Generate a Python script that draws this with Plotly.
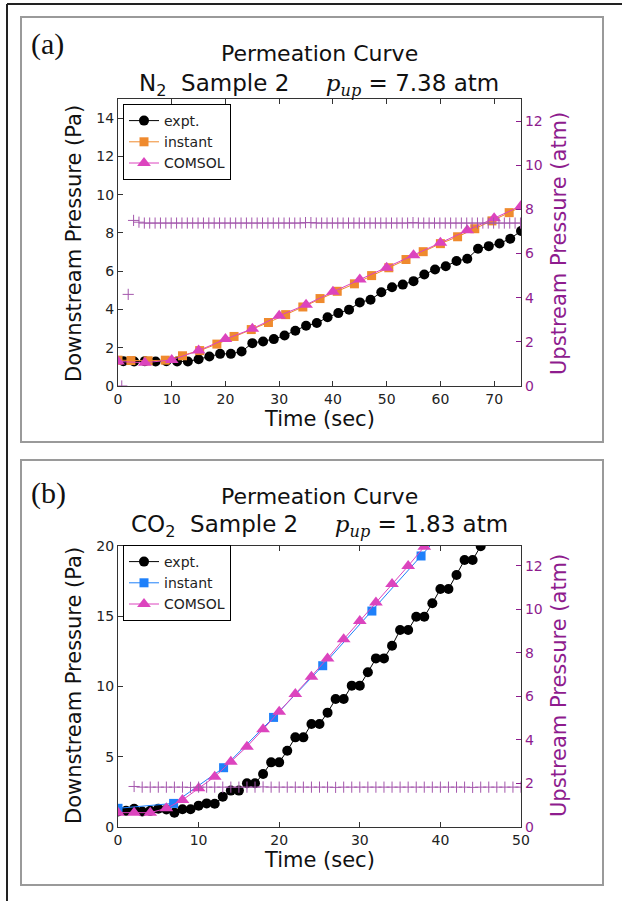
import plotly.graph_objects as go

# ---------------- Panel (a): N2, Sample 2 ----------------
a_expt_t = [1, 3, 5, 7, 9, 11, 13, 15, 17, 19, 21, 23, 25, 27, 29, 31, 33, 35, 37, 39,
            41, 43, 45, 47, 49, 51, 53, 55, 57, 59, 61, 63, 65, 67, 69, 71, 73, 75]
a_expt_p = [1.30, 1.28, 1.30, 1.28, 1.30, 1.28, 1.28, 1.40, 1.54, 1.68, 1.68, 1.80, 2.24, 2.33,
            2.45, 2.64, 2.89, 3.15, 3.29, 3.59, 3.81, 3.99, 4.37, 4.51, 4.90, 5.16, 5.30, 5.48,
            5.83, 6.09, 6.26, 6.53, 6.65, 7.17, 7.31, 7.45, 7.70, 8.10]
a_inst_t = [0.0, 2.4, 5.6, 8.8, 12.0, 15.2, 18.4, 21.6, 24.8, 28.0, 31.2, 34.4, 37.6, 40.8,
            44.0, 47.2, 50.4, 53.6, 56.8, 60.0, 63.2, 66.4, 69.6, 72.8, 76.0]
a_inst_p = [1.35, 1.33, 1.32, 1.35, 1.58, 1.85, 2.19, 2.59, 2.95, 3.32, 3.73, 4.13, 4.57, 4.95,
            5.34, 5.77, 6.18, 6.61, 7.02, 7.44, 7.80, 8.22, 8.63, 9.06, 9.50]
a_com_t = [0, 5, 10, 15, 20, 25, 30, 35, 40, 45, 50, 55, 60, 65, 70, 75]
a_com_p = [1.28, 1.22, 1.36, 1.85, 2.45, 2.99, 3.67, 4.25, 4.92, 5.56, 6.18, 6.84, 7.49, 8.14,
           8.77, 9.41]
a_up_t = [0.7, 1.9, 2.9, 3.9, 4.9, 5.9, 6.9, 7.9, 8.9, 9.9, 10.9, 11.9, 12.9, 13.9, 14.9,
          15.9, 16.9, 17.9, 18.9, 19.9, 20.9, 21.9, 22.9, 23.9, 24.9, 25.9, 26.9, 27.9, 28.9,
          29.9, 30.9, 31.9, 32.9, 33.9, 34.9, 35.9, 36.9, 37.9, 38.9, 39.9, 40.9, 41.9, 42.9,
          43.9, 44.9, 45.9, 46.9, 47.9, 48.9, 49.9, 50.9, 51.9, 52.9, 53.9, 54.9, 55.9, 56.9,
          57.9, 58.9, 59.9, 60.9, 61.9, 62.9, 63.9, 64.9, 65.9, 66.9, 67.9, 68.9, 69.9, 70.9,
          71.9, 72.9, 73.9, 74.9]
a_up_p = [0.0, 4.15, 7.50, 7.42, 7.38, 7.38, 7.38, 7.38, 7.38, 7.38, 7.38, 7.38, 7.38, 7.38, 7.38,
          7.38, 7.38, 7.38, 7.38, 7.38, 7.38, 7.38, 7.38, 7.38, 7.38, 7.38, 7.38, 7.38, 7.38,
          7.38, 7.38, 7.38, 7.38, 7.38, 7.40, 7.40, 7.38, 7.38, 7.38, 7.38, 7.38, 7.38, 7.38,
          7.38, 7.38, 7.38, 7.38, 7.38, 7.38, 7.38, 7.38, 7.38, 7.38, 7.38, 7.40, 7.38, 7.38,
          7.38, 7.38, 7.38, 7.38, 7.38, 7.38, 7.38, 7.38, 7.38, 7.38, 7.38, 7.38, 7.38, 7.38,
          7.38, 7.38, 7.38, 7.38]

# ---------------- Panel (b): CO2, Sample 2 ----------------
b_expt_t = [0, 1, 2, 3, 4, 5, 6, 7, 8, 9, 10, 11, 12, 13, 14, 15, 16, 17, 18, 19, 20, 21, 22,
            23, 24, 25, 26, 27, 28, 29, 30, 31, 32, 33, 34, 35, 36, 37, 38, 39, 40, 41, 42, 43,
            44, 45, 46]
b_expt_p = [1.10, 1.15, 1.30, 1.10, 1.15, 1.30, 1.25, 1.02, 1.26, 1.26, 1.52, 1.68, 1.66, 2.16,
            2.59, 2.59, 3.11, 3.11, 3.77, 4.60, 4.60, 5.43, 6.38, 6.38, 7.33, 7.33, 8.14, 9.11,
            9.11, 10.06, 10.06, 11.01, 12.00, 12.00, 12.90, 14.02, 14.02, 14.97, 14.97, 15.92,
            16.94, 16.94, 17.94, 19.00, 19.00, 19.98, 21.00]
b_inst_t = [0.0, 6.9, 13.1, 19.3, 25.4, 31.5, 37.6, 43.7]
b_inst_p = [1.33, 1.68, 4.22, 7.80, 11.48, 15.37, 19.29, 23.20]
b_com_t = [0, 2, 4, 6, 8, 10, 12, 14, 16, 18, 20, 22, 24, 26, 28, 30, 32, 34, 36, 38, 40]
b_com_p = [1.02, 1.02, 1.02, 1.33, 1.92, 2.75, 3.58, 4.65, 5.72, 6.95, 8.21, 9.47, 10.70, 12.00,
           13.36, 14.66, 15.97, 17.30, 18.58, 19.95, 21.25]
b_up_t = [2, 3, 4, 5, 6, 7, 8, 9, 10, 11, 12, 13, 14, 15, 16, 17, 18, 19, 20, 21, 22, 23, 24,
          25, 26, 27, 28, 29, 30, 31, 32, 33, 34, 35, 36, 37, 38, 39, 40, 41, 42, 43, 44, 45,
          46, 47, 48, 49, 50]
b_up_p = [1.86, 1.83, 1.83, 1.83, 1.83, 1.83, 1.83, 1.82, 1.83, 1.83, 1.83, 1.83, 1.83, 1.83,
          1.83, 1.83, 1.84, 1.83, 1.83, 1.83, 1.83, 1.83, 1.83, 1.83, 1.83, 1.82, 1.83, 1.83,
          1.83, 1.83, 1.83, 1.83, 1.83, 1.83, 1.83, 1.83, 1.83, 1.83, 1.83, 1.83, 1.83, 1.83,
          1.82, 1.83, 1.83, 1.83, 1.83, 1.83, 1.83]

# tick labels
a_xticks = [0, 10, 20, 30, 40, 50, 60, 70]
a_yticks = [0, 2, 4, 6, 8, 10, 12, 14]
b_xticks = [0, 10, 20, 30, 40, 50]
b_yticks = [0, 5, 10, 15, 20]
up_ticks = [0, 2, 4, 6, 8, 10, 12]

W, H = 622, 901
BLACK = "#000000"
ORANGE = "#EF8A2E"
MAGENTA = "#DC44BE"
BLUE = "#1E80FA"
PURPLE = "#8E1C8E"
PLUS = "#A457AC"
AXC = "#333333"
FONT = "DejaVu Sans"


def px(x):
    return x / W


def py(y):
    return 1 - y / H


fig = go.Figure()


def add_panel(xa, ya, ya2, leg, et, ep, it, ip, ic, ct, cp, ut, up):
    fig.add_trace(go.Scatter(x=et, y=ep, name="expt.", mode="lines+markers", xaxis=xa, yaxis=ya,
                             legend=leg, line=dict(color=BLACK, width=1),
                             marker=dict(symbol="circle", size=10, color=BLACK)))
    fig.add_trace(go.Scatter(x=it, y=ip, name="instant", mode="lines+markers", xaxis=xa, yaxis=ya,
                             legend=leg, line=dict(color=ic, width=1),
                             marker=dict(symbol="square", size=9, color=ic)))
    fig.add_trace(go.Scatter(x=ct, y=cp, name="COMSOL", mode="lines+markers", xaxis=xa, yaxis=ya,
                             legend=leg, line=dict(color=MAGENTA, width=1),
                             marker=dict(symbol="triangle-up", size=12, color=MAGENTA)))
    fig.add_trace(go.Scatter(x=ut, y=up, mode="markers", xaxis=xa, yaxis=ya2, showlegend=False,
                             marker=dict(symbol="cross-thin", size=8,
                                         line=dict(color=PLUS, width=1))))


add_panel("x", "y", "y2", "legend", a_expt_t, a_expt_p, a_inst_t, a_inst_p, ORANGE,
          a_com_t, a_com_p, a_up_t, a_up_p)
add_panel("x2", "y3", "y4", "legend2", b_expt_t, b_expt_p, b_inst_t, b_inst_p, BLUE,
          b_com_t, b_com_p, b_up_t, b_up_p)

xdom = [px(118), px(521)]
common = dict(showgrid=False, zeroline=False, showline=True, linecolor=AXC, linewidth=1.3,
              automargin=False, ticks="inside", ticklen=5, tickcolor=AXC,
              tickfont=dict(family=FONT, size=14, color="#222"))
right = dict(showgrid=False, zeroline=False, showline=True, linecolor=AXC, linewidth=1.3,
             automargin=False, ticks="inside", ticklen=5, tickcolor=PURPLE,
             tickfont=dict(family=FONT, size=14, color=PURPLE))

fig.update_layout(
    width=W, height=H, margin=dict(l=0, r=0, t=0, b=0, autoexpand=False),
    paper_bgcolor="white", plot_bgcolor="white",
    xaxis=dict(domain=xdom, anchor="y", range=[0, 75], tickvals=a_xticks, mirror="ticks", **common),
    yaxis=dict(domain=[py(386), py(99)], anchor="x", range=[0, 15], tickvals=a_yticks, **common),
    yaxis2=dict(overlaying="y", side="right", anchor="x", range=[0, 13], tickvals=up_ticks, **right),
    xaxis2=dict(domain=xdom, anchor="y3", range=[0, 50], tickvals=b_xticks, mirror="ticks", **common),
    yaxis3=dict(domain=[py(827), py(546)], anchor="x2", range=[0, 20], tickvals=b_yticks, **common),
    yaxis4=dict(overlaying="y3", side="right", anchor="x2", range=[0, 12.9], tickvals=up_ticks,
                **right),
    legend=dict(x=px(123), y=py(104), xanchor="left", yanchor="top", bgcolor="white",
                bordercolor=BLACK, borderwidth=1, font=dict(family=FONT, size=14, color="#222"),
                tracegroupgap=0, itemwidth=30),
    legend2=dict(x=px(123), y=py(545), xanchor="left", yanchor="top", bgcolor="white",
                 bordercolor=BLACK, borderwidth=1, font=dict(family=FONT, size=14, color="#222"),
                 tracegroupgap=0, itemwidth=30),
)

shapes = [
    dict(type="line", xref="paper", yref="paper", x0=px(7), x1=1, y0=py(4), y1=py(4),
         line=dict(color="#222", width=2)),
    dict(type="line", xref="paper", yref="paper", x0=px(7), x1=px(7), y0=py(4), y1=0,
         line=dict(color="#222", width=2)),
    dict(type="rect", xref="paper", yref="paper", x0=px(21), x1=px(603), y0=py(442), y1=py(17),
         line=dict(color="#9a9a9a", width=2)),
    dict(type="rect", xref="paper", yref="paper", x0=px(21), x1=px(603), y0=py(885), y1=py(460),
         line=dict(color="#9a9a9a", width=2)),
]
fig.update_layout(shapes=shapes)

SERIF = "Liberation Serif"
pup = "<span style='font-family:\"DejaVu Serif\"'><i>p</i><sub><i>up</i></sub></span>"


def ann(x, y, text, size=21, color="#111", angle=0, family=FONT, xanchor="center"):
    fig.add_annotation(x=px(x), y=py(y), xref="paper", yref="paper", text=text, showarrow=False,
                       textangle=angle, xanchor=xanchor, yanchor="middle",
                       font=dict(family=family, size=size, color=color))


ann(29, 44, "(a)", size=30, family=SERIF, xanchor="left")
ann(319, 53, "Permeation Curve", size=22)
ann(319, 85, "N<sub>2</sub>  Sample 2     " + pup + " = 7.38 atm", size=23)
ann(74, 244, "Downstream Pressure (Pa)", angle=-90)
ann(559, 244, "Upstream Pressure (atm)", color=PURPLE, angle=-90)
ann(319, 419, "Time (sec)")

ann(29, 493, "(b)", size=30, family=SERIF, xanchor="left")
ann(319, 496, "Permeation Curve", size=22)
ann(319, 526, "CO<sub>2</sub>  Sample 2     " + pup + " = 1.83 atm", size=23)
ann(74, 686, "Downstream Pressure (Pa)", angle=-90)
ann(559, 686, "Upstream Pressure (atm)", color=PURPLE, angle=-90)
ann(319, 860, "Time (sec)")

ps = """
document.body.style.margin = '0';
document.documentElement.style.margin = '0';
var d = document.getElementById('{plot_id}');
Plotly.relayout(d, {paper_bgcolor: 'white'});
"""
fig.write_html("out.html", post_script=ps)
